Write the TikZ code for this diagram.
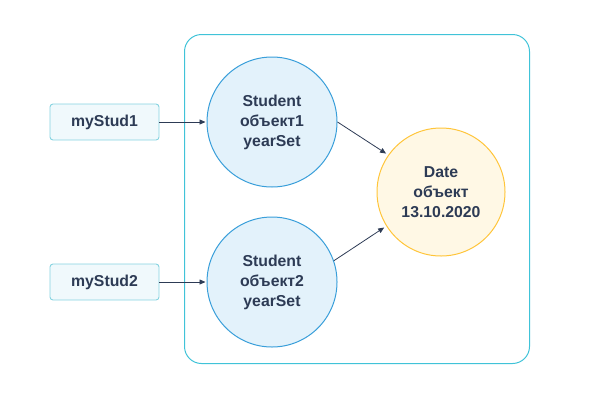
\documentclass[tikz,border=0pt]{standalone}
\usepackage{fontspec}
\setmainfont{Liberation Sans}
\usetikzlibrary{arrows.meta,calc}
\definecolor{txt}{HTML}{2D3B55}
\definecolor{frame}{HTML}{40C3D8}
\definecolor{boxfill}{HTML}{F0F9FC}
\definecolor{boxline}{HTML}{86D3E0}
\definecolor{cfill}{HTML}{E3F2FB}
\definecolor{cline}{HTML}{3A9FDA}
\definecolor{dfill}{HTML}{FFF8E5}
\definecolor{dline}{HTML}{FFC53A}
\begin{document}
\begin{tikzpicture}[x=1pt,y=-1pt,
  lbl/.style={font=\fontsize{15.8}{20}\selectfont\bfseries, text=txt, align=center},
  refbox/.style={lbl, draw=boxline, fill=boxfill, rounded corners=3pt, minimum width=109pt, minimum height=36pt, inner sep=0pt, line width=0.9pt},
  objc/.style={lbl, circle, draw=cline, fill=cfill, minimum size=130pt, inner sep=0pt, line width=1pt},
  datec/.style={lbl, circle, draw=dline, fill=dfill, minimum size=128pt, inner sep=0pt, line width=1pt},
  conn/.style={draw=txt, line width=0.8pt, -{Triangle[length=6pt,width=5pt]}}]
\useasboundingbox (0,0) rectangle (609,407);
\node[draw=frame, line width=1pt, rounded corners=17pt, minimum width=345pt, minimum height=329pt, inner sep=0pt] (frm) at (357,199) {};
\node[refbox] (r1) at (104.5,122) {myStud1};
\node[refbox] (r2) at (104.5,282) {myStud2};
\node[objc] (s1) at (272,122) {Student\\объект1\\yearSet};
\node[objc] (s2) at (272,282) {Student\\объект2\\yearSet};
\node[datec] (d) at (441,192) {Date\\объект\\13.10.2020};
\draw[conn] (r1.east) -- ([xshift=-1pt]s1.west);
\draw[conn] (r2.east) -- ([xshift=-1pt]s2.west);
\draw[conn] (s1.0) -- ($(d.center)+(145:67pt)$);
\draw[conn] (s2.19) -- ($(d.center)+(212:67pt)$);
\end{tikzpicture}
\end{document}
